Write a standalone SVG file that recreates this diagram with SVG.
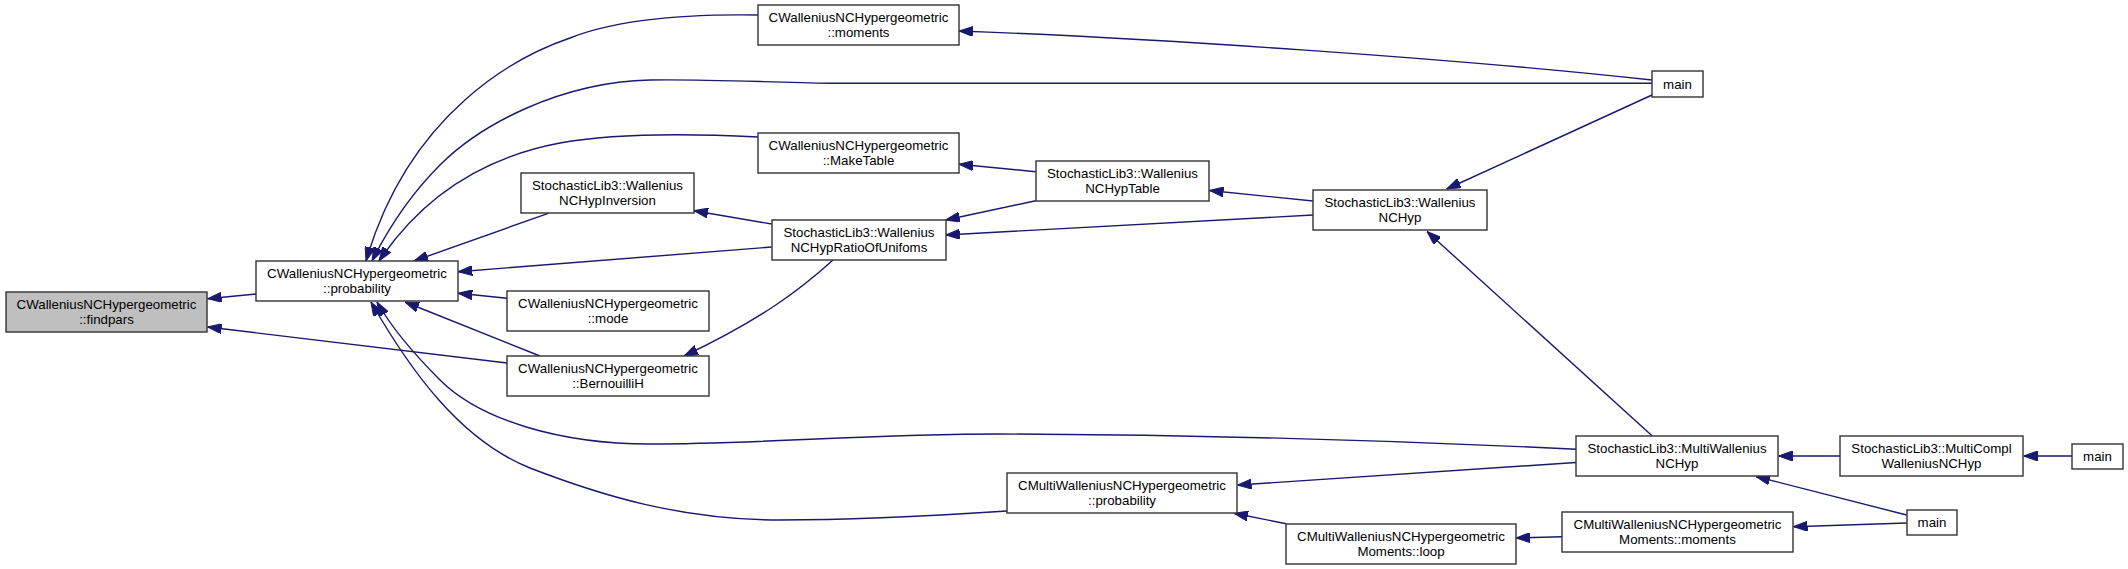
<svg xmlns="http://www.w3.org/2000/svg" width="2128" height="569" viewBox="0 0 2128 569">
<defs>
<style>
.n rect{fill:#fff;stroke:#333;stroke-width:1.4}
.n.sel rect{fill:#bfbfbf}
.n text{font-family:"Liberation Sans",Arial,sans-serif;font-size:13.3px;fill:#000;text-anchor:middle}
.e path{fill:none;stroke:#191970;stroke-width:1.4;marker-end:url(#ah)}
</style>
<marker id="ah" markerUnits="userSpaceOnUse" markerWidth="14" markerHeight="10" viewBox="0 0 14 10" refX="14" refY="5" orient="auto">
<path d="M0,0 L14,5 L0,10 z" fill="#191970" stroke="#191970" stroke-width="1"/>
</marker>
</defs>
<rect width="2128" height="569" fill="#fff"/>
<g id="edges" class="e">
<path d="M256,294 L207.5,298.7"/>
<path d="M507,363 L207.5,327"/>
<path d="M758,15 C690,14 620,18 570,38 C520,55 410,110 366,261"/>
<path d="M1652,83.3 L830,83.3 C760,82 700,79 650,80 C560,82 480,125 440,165 C405,200 385,235 372,261"/>
<path d="M758,137 C700,134 620,132 560,143 C480,158 420,200 379,261"/>
<path d="M548.3,213.3 L414,261"/>
<path d="M771.7,247 L458.3,271.7"/>
<path d="M507,298.3 L458.3,293.3"/>
<path d="M540,356 L405,302"/>
<path d="M1576,449.3 C1450,443 1250,435 1000,434 C870,434 760,444 650,444 C560,444 480,420 440,380 C410,350 390,325 377,302"/>
<path d="M1007,511 C930,516 850,520 780,520 C680,520 600,495 530,468 C460,440 410,370 371,302"/>
<path d="M833,260 C800,290 760,320 684,356"/>
<path d="M771.7,224 L694,210.7"/>
<path d="M1035.7,200.7 L945.7,220"/>
<path d="M1313,215 L945.7,235"/>
<path d="M1035.7,171.7 L959,164.3"/>
<path d="M1313,201 L1209.5,190.5"/>
<path d="M1652,80 C1450,58 1150,38 959,31"/>
<path d="M1652,95 L1446.7,189"/>
<path d="M1652,435.7 L1427,231.5"/>
<path d="M1840,456 L1778.5,456"/>
<path d="M2072,456 L2023.5,456"/>
<path d="M1906.6,515 L1756,476.5"/>
<path d="M1576,462.5 L1237.5,485"/>
<path d="M1286,523.7 L1234,513.3"/>
<path d="M1562,536.7 L1516,538"/>
<path d="M1906.6,523 L1793.5,526.7"/>
</g>
<g id="findpars" class="n sel"><rect x="6" y="292" width="201" height="40"/><text x="106.5" y="308.5">CWalleniusNCHypergeometric</text><text x="106.5" y="323.5">::findpars</text></g>
<g id="probability" class="n"><rect x="256" y="261" width="202" height="40"/><text x="357" y="277.5">CWalleniusNCHypergeometric</text><text x="357" y="292.5">::probability</text></g>
<g id="moments" class="n"><rect x="758" y="5" width="201" height="40"/><text x="858.5" y="21.5">CWalleniusNCHypergeometric</text><text x="858.5" y="36.5">::moments</text></g>
<g id="maketable" class="n"><rect x="758" y="133" width="201" height="40"/><text x="858.5" y="149.5">CWalleniusNCHypergeometric</text><text x="858.5" y="164.5">::MakeTable</text></g>
<g id="inversion" class="n"><rect x="521" y="173" width="173" height="40"/><text x="607.5" y="189.5">StochasticLib3::Wallenius</text><text x="607.5" y="204.5">NCHypInversion</text></g>
<g id="ratio" class="n"><rect x="772" y="220" width="174" height="40"/><text x="859" y="236.5">StochasticLib3::Wallenius</text><text x="859" y="251.5">NCHypRatioOfUnifoms</text></g>
<g id="mode" class="n"><rect x="507" y="291" width="202" height="40"/><text x="608" y="307.5">CWalleniusNCHypergeometric</text><text x="608" y="322.5">::mode</text></g>
<g id="bernouillih" class="n"><rect x="507" y="356" width="202" height="40"/><text x="608" y="372.5">CWalleniusNCHypergeometric</text><text x="608" y="387.5">::BernouilliH</text></g>
<g id="nchyptable" class="n"><rect x="1036" y="161" width="173" height="40"/><text x="1122.5" y="177.5">StochasticLib3::Wallenius</text><text x="1122.5" y="192.5">NCHypTable</text></g>
<g id="nchyp" class="n"><rect x="1313" y="190" width="174" height="40"/><text x="1400" y="206.5">StochasticLib3::Wallenius</text><text x="1400" y="221.5">NCHyp</text></g>
<g id="main1" class="n"><rect x="1652" y="71" width="51" height="26"/><text x="1677.5" y="88.5">main</text></g>
<g id="cmultiprob" class="n"><rect x="1007" y="473" width="230" height="40"/><text x="1122" y="489.5">CMultiWalleniusNCHypergeometric</text><text x="1122" y="504.5">::probability</text></g>
<g id="loop" class="n"><rect x="1286" y="524" width="230" height="40"/><text x="1401" y="540.5">CMultiWalleniusNCHypergeometric</text><text x="1401" y="555.5">Moments::loop</text></g>
<g id="multi" class="n"><rect x="1576" y="436" width="202" height="40"/><text x="1677" y="452.5">StochasticLib3::MultiWallenius</text><text x="1677" y="467.5">NCHyp</text></g>
<g id="multicompl" class="n"><rect x="1840" y="436" width="183" height="40"/><text x="1931.5" y="452.5">StochasticLib3::MultiCompl</text><text x="1931.5" y="467.5">WalleniusNCHyp</text></g>
<g id="main2" class="n"><rect x="2072" y="444" width="51" height="25"/><text x="2097.5" y="461">main</text></g>
<g id="main3" class="n"><rect x="1907" y="510" width="50" height="25"/><text x="1932" y="527">main</text></g>
<g id="mmoments" class="n"><rect x="1562" y="512" width="231" height="40"/><text x="1677.5" y="528.5">CMultiWalleniusNCHypergeometric</text><text x="1677.5" y="543.5">Moments::moments</text></g>
</svg>
